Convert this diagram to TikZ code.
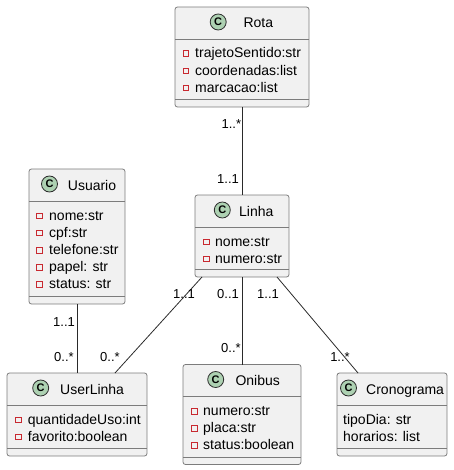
\documentclass[tikz,border=0pt]{standalone}
\usepackage{fontspec}
\setmainfont{Liberation Sans}
\definecolor{boxfill}{HTML}{F1F1F1}
\definecolor{boxline}{HTML}{7C7C7C}
\definecolor{circfill}{HTML}{ADD1B2}
\definecolor{circline}{HTML}{2E2E2E}
\definecolor{privred}{HTML}{C82930}
\definecolor{linecol}{HTML}{2A2A2A}
\tikzset{
  cls/.style={draw=boxline, fill=boxfill, rounded corners=2.5pt, line width=0.8pt, inner sep=0pt, outer sep=0pt, rectangle},
  sepline/.style={draw=boxline, line width=0.8pt},
  circ/.style={circle, draw=circline, fill=circfill, line width=0.8pt, minimum size=16pt, inner sep=0pt, font=\fontsize{11}{12}\selectfont\bfseries},
  cname/.style={anchor=base west, inner sep=0pt, font=\fontsize{14}{16}\selectfont},
  attr/.style={anchor=base west, inner sep=0pt, font=\fontsize{14}{16}\selectfont},
  priv/.style={rectangle, draw=privred, line width=0.8pt, minimum size=5.6pt, inner sep=0pt},
  mult/.style={inner sep=0pt, font=\fontsize{13}{15}\selectfont, text height=9.3pt, text depth=0pt},
  assoc/.style={draw=linecol, line width=0.8pt}
}
\begin{document}
\begin{tikzpicture}[x=1pt, y=-1pt]
\useasboundingbox (0,0) rectangle (453,470);

% ---------- Rota ----------
\node[cls, minimum width=134pt, minimum height=100pt] (rota) at (242,57) {};
\draw[sepline] (175,39) -- (309,39);
\draw[sepline] (175,99.4) -- (309,99.4);
\node[circ] (rotac) at (218.2,22) {C};
\node[cname] (rotan) at (243.3,28) {Rota};
\node[priv] (rotai1) at (186,53.7) {};
\node[attr] (rotaa1) at (195,58) {trajetoSentido:str};
\node[priv] (rotai2) at (186,70.9) {};
\node[attr] (rotaa2) at (195,75.2) {coordenadas:list};
\node[priv] (rotai3) at (186,88.1) {};
\node[attr] (rotaa3) at (195,92.4) {marcacao:list};

% ---------- Usuario ----------
\node[cls, minimum width=96pt, minimum height=135pt] (usuario) at (77,236.5) {};
\draw[sepline] (29,201) -- (125,201);
\draw[sepline] (29,296) -- (125,296);
\node[circ] (usuarioc) at (49.5,184) {C};
\node[cname] (usuarion) at (67.7,190) {Usuario};
\node[priv] (usuarioi1) at (39.5,215.7) {};
\node[attr] (usuarioa1) at (49,220) {nome:str};
\node[priv] (usuarioi2) at (39.5,232.9) {};
\node[attr] (usuarioa2) at (49,237.2) {cpf:str};
\node[priv] (usuarioi3) at (39.5,250.1) {};
\node[attr] (usuarioa3) at (49,254.4) {telefone:str};
\node[priv] (usuarioi4) at (39.5,267.3) {};
\node[attr] (usuarioa4) at (49,271.6) {papel: str};
\node[priv] (usuarioi5) at (39.5,284.5) {};
\node[attr] (usuarioa5) at (49,288.8) {status: str};

% ---------- Linha ----------
\node[cls, minimum width=94pt, minimum height=82pt] (linha) at (242,236) {};
\draw[sepline] (195,227) -- (289,227);
\draw[sepline] (195,269.5) -- (289,269.5);
\node[circ] (linhac) at (222.3,210) {C};
\node[cname] (linhan) at (239,216) {Linha};
\node[priv] (linhai1) at (206.3,241.7) {};
\node[attr] (linhaa1) at (215,246) {nome:str};
\node[priv] (linhai2) at (206.3,258.9) {};
\node[attr] (linhaa2) at (215,263.2) {numero:str};

% ---------- UserLinha ----------
\node[cls, minimum width=140pt, minimum height=83pt] (userlinha) at (77,414.5) {};
\draw[sepline] (7,405) -- (147,405);
\draw[sepline] (7,448) -- (147,448);
\node[circ] (userlinhac) at (40.7,388) {C};
\node[cname] (userlinhan) at (60,394) {UserLinha};
\node[priv] (userlinhai1) at (18.5,419.7) {};
\node[attr] (userlinhaa1) at (27.7,424) {quantidadeUso:int};
\node[priv] (userlinhai2) at (18.5,436.9) {};
\node[attr] (userlinhaa2) at (27.7,441.2) {favorito:boolean};

% ---------- Onibus ----------
\node[cls, minimum width=118pt, minimum height=100pt] (onibus) at (242,414.5) {};
\draw[sepline] (183,396.5) -- (301,396.5);
\draw[sepline] (183,457) -- (301,457);
\node[circ] (onibusc) at (215.7,379.5) {C};
\node[cname] (onibusn) at (235.3,385.5) {Onibus};
\node[priv] (onibusi1) at (194.3,411.2) {};
\node[attr] (onibusa1) at (203,415.5) {numero:str};
\node[priv] (onibusi2) at (194.3,428.4) {};
\node[attr] (onibusa2) at (203,432.7) {placa:str};
\node[priv] (onibusi3) at (194.3,445.6) {};
\node[attr] (onibusa3) at (203,449.9) {status:boolean};

% ---------- Cronograma ----------
\node[cls, minimum width=110pt, minimum height=83pt] (crono) at (392,414.5) {};
\draw[sepline] (337,405) -- (447,405);
\draw[sepline] (337,448) -- (447,448);
\node[circ] (cronoc) at (348.5,388) {C};
\node[cname] (cronon) at (366,394) {Cronograma};
\node[attr] (cronoa1) at (343,424) {tipoDia: str};
\node[attr] (cronoa2) at (343,441.2) {horarios: list};

% ---------- connectors ----------
\draw[assoc] (rota.south) -- (linha.north);
\draw[assoc] (usuario.south) -- (userlinha.north);
\draw[assoc] ([xshift=7pt]linha.south west) -- ([xshift=-32pt]userlinha.north east);
\draw[assoc] (linha.south) -- (onibus.north);
\draw[assoc] ([xshift=-12pt]linha.south east) -- ([xshift=21pt]crono.north west);

% ---------- multiplicities ----------
\node[mult] (m1) at (231.3,124) {1..*};
\node[mult] (m2) at (228,179) {1..1};
\node[mult] (m3) at (64,322) {1..1};
\node[mult] (m4) at (64,357) {0..*};
\node[mult] (m5) at (184,294) {1..1};
\node[mult] (m6) at (110,357) {0..*};
\node[mult] (m7) at (228,294) {0..1};
\node[mult] (m8) at (231,348) {0..*};
\node[mult] (m9) at (268,294) {1..1};
\node[mult] (m10) at (340,357) {1..*};
\end{tikzpicture}
\end{document}
